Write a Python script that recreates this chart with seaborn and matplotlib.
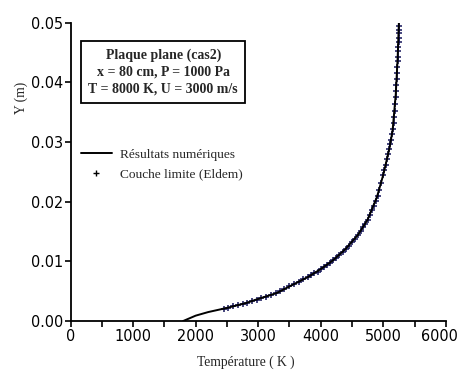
import matplotlib
matplotlib.use("Agg")
import matplotlib.pyplot as plt
from matplotlib import font_manager
from matplotlib.font_manager import FontProperties
from matplotlib.ticker import MultipleLocator
from matplotlib.lines import Line2D
from matplotlib.transforms import ScaledTranslation
import seaborn as sns
import pandas as pd

# Numerical solution: temperature profile across the boundary layer
temp_num = [1800, 2000, 2200, 2500, 2800, 3000, 3300, 3500, 3800, 4000, 4200,
            4400, 4600, 4750, 4900, 5000, 5100, 5150, 5200, 5230, 5250]
y_num = [0.0, 0.0009, 0.0015, 0.0022, 0.0030, 0.0037, 0.0047, 0.0058, 0.0074,
         0.0087, 0.0102, 0.0121, 0.0145, 0.0170, 0.0208, 0.0245, 0.0290, 0.0320,
         0.0380, 0.0440, 0.0500]

# Boundary-layer reference points (Eldem)
temp_eldem = [2450, 2520, 2600, 2680, 2750, 2820, 2900, 2980, 3050, 3120,
              3200, 3280, 3350, 3420, 3500, 3570, 3650, 3720, 3800, 3850,
              3900, 3950, 4000, 4050, 4100, 4150, 4200, 4250, 4300, 4350,
              4400, 4450, 4500, 4550, 4600, 4640, 4680, 4715, 4750, 4785,
              4820, 4850, 4880, 4910, 4940, 4970, 5000, 5020, 5040, 5060,
              5080, 5095, 5110, 5125, 5140, 5152, 5165, 5175, 5185, 5193,
              5200, 5205, 5210, 5215, 5220, 5225, 5230, 5234, 5238, 5241,
              5244, 5246, 5248, 5249, 5250]
y_eldem = [0.0020, 0.0022, 0.0025, 0.0027, 0.0029, 0.0031, 0.0033, 0.0036, 0.0039, 0.0041,
           0.0043, 0.0047, 0.0050, 0.0054, 0.0058, 0.0062, 0.0066, 0.0070, 0.0074, 0.0077,
           0.0080, 0.0083, 0.0087, 0.0090, 0.0094, 0.0098, 0.0102, 0.0106, 0.0111, 0.0116,
           0.0121, 0.0126, 0.0132, 0.0138, 0.0145, 0.0151, 0.0157, 0.0163, 0.0170, 0.0178,
           0.0186, 0.0193, 0.0201, 0.0210, 0.0219, 0.0231, 0.0245, 0.0253, 0.0262, 0.0271,
           0.0280, 0.0288, 0.0296, 0.0304, 0.0313, 0.0322, 0.0332, 0.0342, 0.0352, 0.0363,
           0.0375, 0.0385, 0.0395, 0.0405, 0.0415, 0.0425, 0.0435, 0.0443, 0.0452, 0.0460,
           0.0468, 0.0475, 0.0482, 0.0488, 0.0495]

x_ticks = [0, 1000, 2000, 3000, 4000, 5000, 6000]
y_ticks = [0.00, 0.01, 0.02, 0.03, 0.04, 0.05]
y_tick_labels = ["0.00", "0.01", "0.02", "0.03", "0.04", "0.05"]

sns.set_style("ticks")
serif = ["Liberation Serif", "DejaVu Serif"]
plt.rcParams["font.family"] = serif


def narrow_tick_font():
    """Pick a condensed sans face for the tick numbers if one is installed."""
    for f in font_manager.fontManager.ttflist:
        name = f.name.lower()
        stretch = str(f.stretch).lower()
        narrow = ("condensed" in stretch or "narrow" in name
                  or "condensed" in name or "narrow" in f.fname.lower()
                  or "condensed" in f.fname.lower())
        serif_face = "serif" in name and "sans" not in name
        if narrow and not serif_face and f.style == "normal" and \
                f.weight in (400, "normal", "regular", 500, "medium"):
            return FontProperties(fname=f.fname, size=11.6)
    return FontProperties(family=["Liberation Sans", "DejaVu Sans"], size=10.2)


tick_font = narrow_tick_font()

df_num = pd.DataFrame({"T": temp_num, "Y": y_num})
df_eldem = pd.DataFrame({"T": temp_eldem, "Y": y_eldem})

fig = plt.figure(figsize=(4.61, 3.72), dpi=100)
ax = fig.add_axes([0.153, 0.137, 0.814, 0.802])

sns.lineplot(data=df_num, x="T", y="Y", ax=ax, color="black", linewidth=1.4,
             sort=False, estimator=None)
sns.scatterplot(data=df_eldem, x="T", y="Y", ax=ax, marker="+", s=14,
                color="#14145a", linewidth=1.1)

ax.set_xlim(0, 6000)
ax.set_ylim(0, 0.05)
ax.set_xticks(x_ticks)
ax.xaxis.set_minor_locator(MultipleLocator(500))
ax.set_yticks(y_ticks)
ax.set_yticklabels(y_tick_labels)
for lab in ax.get_xticklabels() + ax.get_yticklabels():
    lab.set_fontproperties(tick_font)
    lab.set_color("black")
ax.tick_params(which="both", direction="out", length=4, width=1.2, colors="black")
ax.tick_params(axis="x", pad=2)
ax.tick_params(axis="y", pad=1)

# keep the last x label inside the canvas
last = ax.get_xticklabels()[-1]
last.set_transform(last.get_transform() +
                   ScaledTranslation(-6 / 100, 0, fig.dpi_scale_trans))

sns.despine(ax=ax)
for side in ("left", "bottom"):
    ax.spines[side].set_linewidth(1.3)
    ax.spines[side].set_color("black")

ax.set_xlabel("")
ax.set_ylabel("")
fig.text(0.534, 0.027, "Température ( K )", ha="center", va="center",
         fontsize=9.8, family=serif)
fig.text(0.046, 0.737, "Y (m)", ha="center", va="center", rotation=90,
         fontsize=9.8, family=serif)

# Case description box
fig.text(0.354, 0.806,
         "Plaque plane (cas2)\nx = 80 cm, P = 1000 Pa\nT = 8000 K, U = 3000 m/s",
         ha="center", va="center", fontsize=10, fontweight="bold",
         linespacing=1.4, family=serif,
         bbox=dict(boxstyle="square,pad=0.5", facecolor="white",
                   edgecolor="black", linewidth=1.3))

handles = [Line2D([], [], color="black", linewidth=1.4),
           Line2D([], [], color="black", marker="+", linestyle="none",
                  markersize=4, markeredgewidth=1.0)]
ax.legend(handles, ["Résultats numériques", "Couche limite (Eldem)"],
          loc="upper left", bbox_to_anchor=(0.014, 0.597), frameon=False,
          prop={"family": serif, "size": 9.6}, handlelength=2.3,
          handletextpad=0.6, labelspacing=0.55, borderaxespad=0)

fig.savefig("out.png", dpi=100, facecolor="white")
